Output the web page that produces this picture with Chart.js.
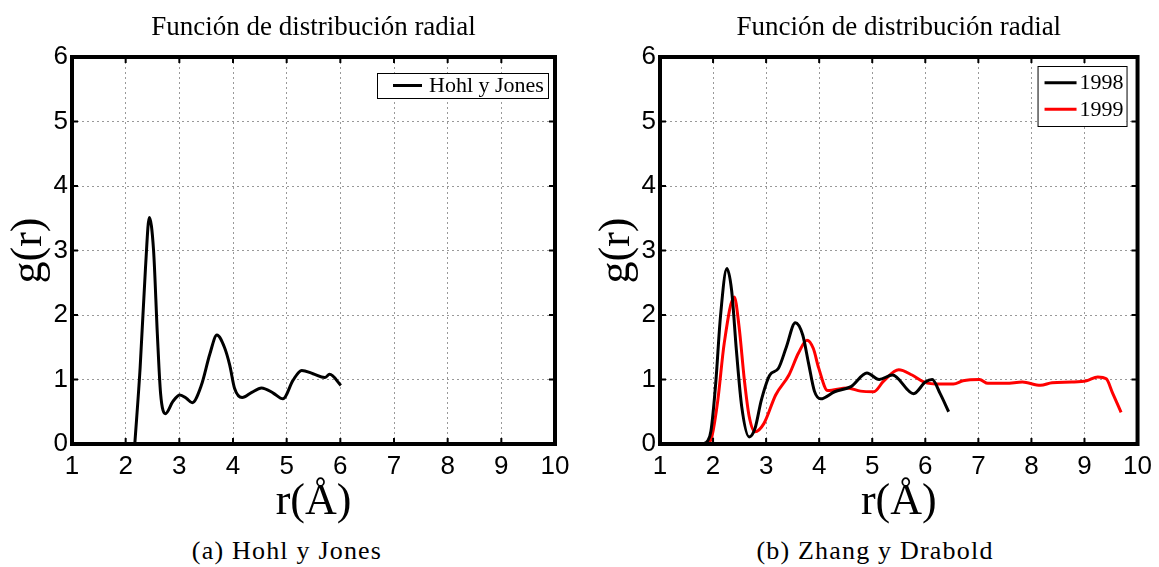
<!DOCTYPE html>
<html lang="es">
<head>
<meta charset="UTF-8">
<title>Función de distribución radial</title>
<script src="https://cdn.jsdelivr.net/npm/chart.js"></script>
<style>
    body {
        margin: 0;
        background: #fff;
        width: 1159px;
        height: 567px;
        position: relative;
        overflow: hidden;
    }
    .panel {
        position: absolute;
        top: 0;
        height: 530px;
    }
    .caption {
        position: absolute;
        top: 536px;
        font-family: "Liberation Serif", serif;
        font-size: 26px;
        letter-spacing: 1.2px;
        transform: translateX(-50%);
        white-space: nowrap;
    }
</style>
</head>
<body>
<div class="panel" style="left:0;width:580px"><canvas id="chartA"></canvas></div>
<div class="panel" style="left:588px;width:571px"><canvas id="chartB"></canvas></div>
<div class="caption" style="left:287px">(a) Hohl y Jones</div>
<div class="caption" style="left:875px">(b) Zhang y Drabold</div>

<script>
// g(r) curves, r in Angstrom
const hohlR = [2.17, 2.27, 2.37, 2.44, 2.52, 2.59, 2.65, 2.74, 2.88, 3.01, 3.13, 3.24, 3.41, 3.57, 3.70, 3.84, 3.94, 4.03, 4.17, 4.35, 4.53, 4.75, 4.93, 5.12, 5.28, 5.49, 5.71, 5.80, 6.01];
const hohlG = [0.00, 1.19, 2.74, 3.51, 3.00, 1.71, 0.79, 0.47, 0.66, 0.76, 0.71, 0.64, 0.91, 1.40, 1.69, 1.50, 1.22, 0.86, 0.72, 0.80, 0.87, 0.79, 0.70, 0.99, 1.14, 1.09, 1.03, 1.08, 0.91];

const zhang98R = [1.80, 1.90, 1.96, 2.05, 2.14, 2.26, 2.35, 2.44, 2.54, 2.68, 2.79, 2.91, 3.07, 3.23, 3.38, 3.55, 3.69, 3.80, 3.91, 4.03, 4.29, 4.60, 4.90, 5.13, 5.38, 5.78, 6.00, 6.13, 6.28, 6.44];
const zhang98G = [0.00, 0.05, 0.20, 0.94, 1.98, 2.72, 2.38, 1.45, 0.58, 0.11, 0.24, 0.68, 1.07, 1.17, 1.50, 1.88, 1.69, 1.25, 0.82, 0.70, 0.81, 0.89, 1.10, 1.00, 1.07, 0.78, 0.96, 1.00, 0.78, 0.50];

const zhang99R = [1.92, 1.98, 2.09, 2.21, 2.40, 2.49, 2.59, 2.68, 2.79, 2.96, 3.18, 3.43, 3.61, 3.77, 3.89, 3.99, 4.16, 4.53, 4.78, 5.03, 5.21, 5.50, 5.75, 5.98, 6.28, 6.53, 6.71, 7.02, 7.18, 7.52, 7.83, 8.17, 8.39, 8.76, 9.04, 9.25, 9.41, 9.53, 9.69];
const zhang99G = [0.00, 0.12, 0.68, 1.56, 2.28, 1.82, 0.99, 0.43, 0.19, 0.32, 0.76, 1.07, 1.41, 1.61, 1.48, 1.18, 0.83, 0.87, 0.82, 0.81, 0.97, 1.15, 1.07, 0.96, 0.93, 0.93, 0.98, 1.00, 0.94, 0.94, 0.96, 0.91, 0.95, 0.96, 0.98, 1.04, 1.01, 0.79, 0.49];

const rTicks = [1, 2, 3, 4, 5, 6, 7, 8, 9, 10];
const gTicks = [0, 1, 2, 3, 4, 5, 6];

Chart.defaults.font.family = '"Liberation Sans", Arial, sans-serif';
Chart.defaults.color = '#000';
Chart.defaults.animation = false;

function toPoints(xs, ys) {
    return xs.map((x, i) => ({ x: x, y: ys[i] }));
}

// thick box around the plot area with small inward ticks
const frame = {
    id: 'frame',
    afterDatasetsDraw(chart) {
        const { ctx, chartArea: a, scales: { x, y } } = chart;
        ctx.save();
        ctx.strokeStyle = '#000';
        ctx.lineWidth = 2;
        ctx.beginPath();
        rTicks.forEach(v => {
            const px = x.getPixelForValue(v);
            ctx.moveTo(px, a.bottom); ctx.lineTo(px, a.bottom - 6);
            ctx.moveTo(px, a.top); ctx.lineTo(px, a.top + 6);
        });
        gTicks.forEach(v => {
            const py = y.getPixelForValue(v);
            ctx.moveTo(a.left, py); ctx.lineTo(a.left + 6, py);
            ctx.moveTo(a.right, py); ctx.lineTo(a.right - 6, py);
        });
        ctx.stroke();
        ctx.lineWidth = 4;
        ctx.strokeRect(a.left, a.top, a.width, a.height);
        ctx.restore();
    }
};

// legend drawn inside the plot, top right corner
const boxLegend = {
    id: 'boxLegend',
    afterDraw(chart, args, o) {
        const { ctx, chartArea: a } = chart;
        const x0 = a.right - o.right - o.width;
        const y0 = a.top + o.top;
        ctx.save();
        ctx.fillStyle = '#fff';
        ctx.fillRect(x0, y0, o.width, o.height);
        ctx.strokeStyle = '#000';
        ctx.lineWidth = 1;
        ctx.strokeRect(x0 + 0.5, y0 + 0.5, o.width, o.height);
        ctx.font = '22px "Liberation Serif"';
        ctx.textBaseline = 'middle';
        ctx.textAlign = 'left';
        chart.data.datasets.forEach((ds, i) => {
            const cy = y0 + o.firstRow + i * o.rowH;
            ctx.strokeStyle = ds.borderColor;
            ctx.lineWidth = 3;
            ctx.beginPath();
            ctx.moveTo(x0 + o.lineX, cy);
            ctx.lineTo(x0 + o.lineX + o.lineLen, cy);
            ctx.stroke();
            ctx.fillStyle = '#000';
            ctx.fillText(ds.label, x0 + o.textX, cy + 1);
        });
        ctx.restore();
    }
};

function makeOptions(rightPad, legendOpts) {
    const serif = { family: '"Liberation Serif", "Times New Roman", serif', size: 44, lineHeight: 1 };
    return {
        responsive: true,
        maintainAspectRatio: false,
        layout: { padding: { top: 0, right: rightPad, bottom: 0, left: 0 }, autoPadding: false },
        plugins: {
            legend: { display: false },
            tooltip: { enabled: false },
            title: {
                display: true,
                text: 'Función de distribución radial',
                fullSize: false,
                font: { family: '"Liberation Serif", serif', size: 27, weight: 'normal', lineHeight: 1.2 },
                padding: { top: 12, bottom: 12.6 }
            },
            boxLegend: legendOpts
        },
        scales: {
            x: {
                type: 'linear',
                min: 1,
                max: 10,
                afterBuildTicks: s => { s.ticks = rTicks.map(v => ({ value: v })); },
                afterFit: s => { s.height = 86; },
                ticks: { font: { size: 26 }, padding: 7, maxRotation: 0, autoSkip: false },
                grid: { color: '#999', lineWidth: 1, drawTicks: false },
                border: { display: false, dash: [2, 3] },
                title: { display: true, text: 'r(Å)', font: serif, padding: { top: 0, bottom: 6 } }
            },
            y: {
                type: 'linear',
                min: 0,
                max: 6,
                afterBuildTicks: s => { s.ticks = gTicks.map(v => ({ value: v })); },
                afterFit: s => { s.width = 72; },
                ticks: { font: { size: 26 }, padding: 4 },
                grid: { color: '#999', lineWidth: 1, drawTicks: false },
                border: { display: false, dash: [2, 3] },
                title: { display: true, text: 'g(r)', font: serif, padding: { top: 7, bottom: 0 } }
            }
        }
    };
}

function line(label, xs, ys, color) {
    return {
        label: label,
        data: toPoints(xs, ys),
        borderColor: color,
        borderWidth: 3,
        pointRadius: 0,
        fill: false,
        cubicInterpolationMode: 'monotone'
    };
}

new Chart(document.getElementById('chartA'), {
    type: 'line',
    data: { datasets: [line('Hohl y Jones', hohlR, hohlG, '#000')] },
    options: makeOptions(25, { right: 7, top: 16, width: 171, height: 25, lineX: 16, lineLen: 29, textX: 52, firstRow: 12.5, rowH: 0 }),
    plugins: [frame, boxLegend]
});

new Chart(document.getElementById('chartB'), {
    type: 'line',
    data: {
        datasets: [
            line('1998', zhang98R, zhang98G, '#000'),
            line('1999', zhang99R, zhang99G, '#ff0000')
        ]
    },
    options: makeOptions(16, { right: 11, top: 9, width: 89, height: 60, lineX: 7, lineLen: 32, textX: 42, firstRow: 16.7, rowH: 26.6 }),
    plugins: [frame, boxLegend]
});
</script>
</body>
</html>
